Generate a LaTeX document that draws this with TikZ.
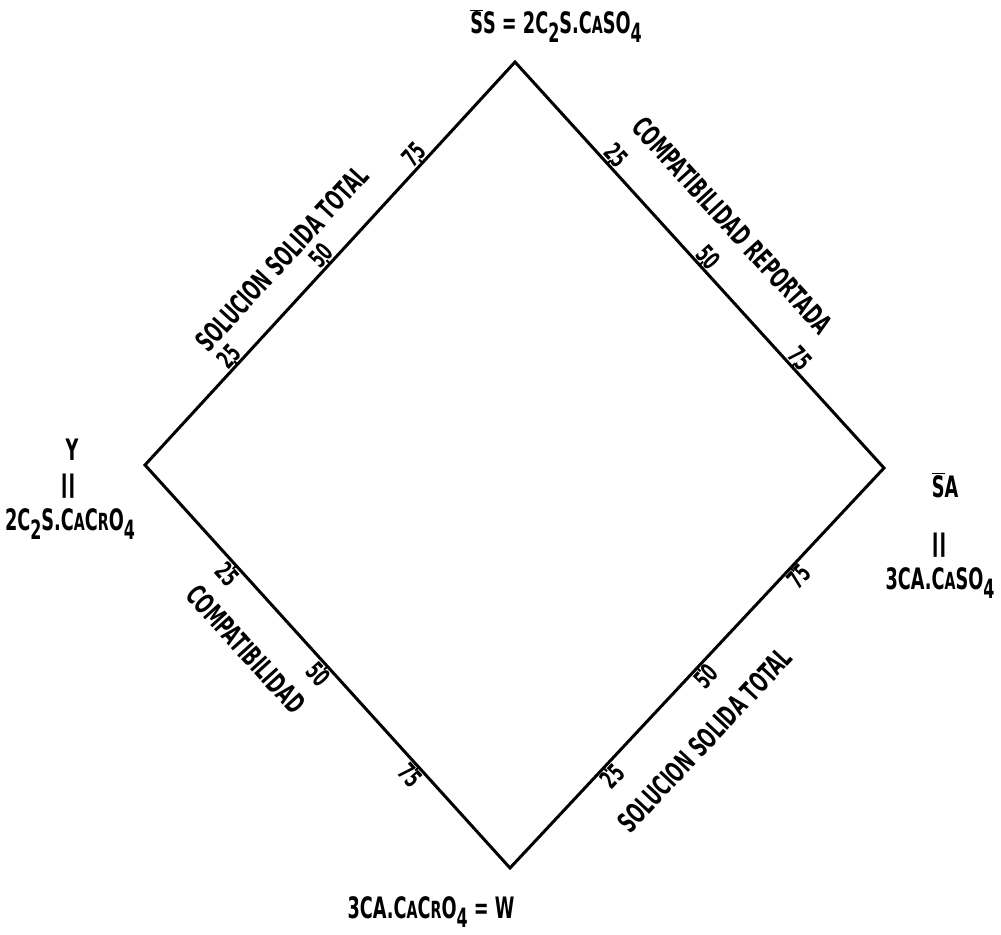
\documentclass[tikz,border=0pt]{standalone}
\usepackage{fontspec}
\setmainfont[FakeStretch=0.6]{DejaVu Sans}
\usetikzlibrary{calc}
\newcommand\smcap[1]{\scalebox{0.8}{#1}}
\newcommand\lowsub[1]{\raisebox{-0.55ex}{\scalebox{0.9}{#1}}}

\begin{document}
\begin{tikzpicture}[x=0.25mm,y=0.25mm,
  side/.style={line width=0.75mm,line join=miter},
  tick/.style={line width=0.5mm},
  num/.style={font=\fontsize{18}{18}\selectfont\bfseries,inner sep=1pt,sloped},
  lab/.style={font=\fontsize{20}{20}\selectfont\bfseries,inner sep=0pt,sloped},
  vtx/.style={font=\fontsize{21}{21}\selectfont\bfseries,inner sep=0pt},
  eqv/.style={font=\fontsize{21}{21}\selectfont,inner sep=0pt,rotate=90}]
\useasboundingbox (0,0) rectangle (1001,934);
\coordinate (T) at (515,872);
\coordinate (L) at (145,469);
\coordinate (R) at (884,466);
\coordinate (B) at (510,66);
\draw[side] (L) -- (T) -- (R) -- (B) -- cycle;

% scale marks on the four sides
\foreach \p/\t in {0.25/25,0.5/50,0.75/75}{
  \coordinate (p) at ($(L)!\p!(T)$);
  \draw[tick] (p) -- ($(p)!1.2mm!90:(T)$);
  \path (L) -- (T) node[num,pos=\p,above=0.2mm] {\t};
  \coordinate (p) at ($(T)!\p!(R)$);
  \draw[tick] (p) -- ($(p)!1.2mm!90:(R)$);
  \path (T) -- (R) node[num,pos=\p,above=0.2mm] {\t};
  \coordinate (p) at ($(L)!\p!(B)$);
  \draw[tick] (p) -- ($(p)!1.2mm!-90:(B)$);
  \path (L) -- (B) node[num,pos=\p,below=0.2mm] {\t};
  \coordinate (p) at ($(B)!\p!(R)$);
  \draw[tick] (p) -- ($(p)!1.2mm!-90:(R)$);
  \path (B) -- (R) node[num,pos=\p,below=0.2mm] {\t};
}

% side labels
\path (L) -- (T) node[lab,pos=0.447,above=7mm] (sst1) {SOLUCION SOLIDA TOTAL};
\path (T) -- (R) node[lab,pos=0.487,above=10mm] (cr) {COMPATIBILIDAD REPORTADA};
\path (L) -- (B) node[lab,pos=0.376,below=9.5mm] (cp) {COMPATIBILIDAD};
\path (B) -- (R) node[lab,pos=0.414,below=11mm] (sst2) {SOLUCION SOLIDA TOTAL};

% corner labels
\node[vtx] (ss) at (556,908) {$\overline{\mbox{S}}$S = 2C\lowsub{2}S.C\smcap{A}SO\lowsub{4}};
\node[vtx] (y) at (72,484) {Y};
\node[eqv] (yeq) at (72,448) {\scalebox{2.2}[1.3]{=}};
\node[vtx] (yf) at (70,410) {2C\lowsub{2}S.C\smcap{A}C\smcap{R}O\lowsub{4}};
\node[vtx] (sa) at (945,449) {$\overline{\mbox{S}}$A};
\node[eqv] (saeq) at (943,389) {\scalebox{2.2}[1.3]{=}};
\node[vtx] (saf) at (940,351) {3CA.C\smcap{A}SO\lowsub{4}};
\node[vtx] (w) at (431,22) {3CA.C\smcap{A}C\smcap{R}O\lowsub{4} = W};
\end{tikzpicture}
\end{document}
